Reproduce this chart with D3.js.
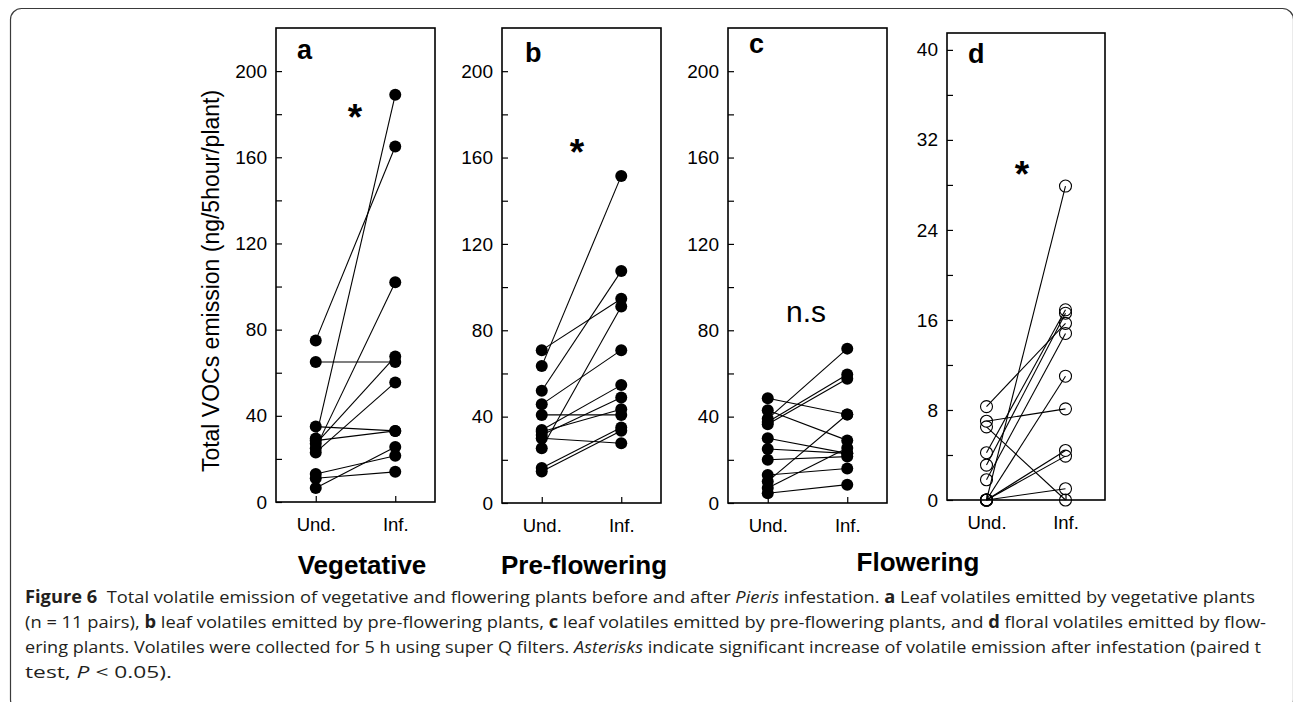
<!DOCTYPE html>
<html><head><meta charset="utf-8">
<script src="https://cdn.jsdelivr.net/npm/d3@7"></script>
<style>body{margin:0;background:#fff} svg{display:block}</style>
</head><body>
<script>
// ---------- data ----------
const treatments = ["Und.", "Inf."];
const panelLetters = ["a", "b", "c", "d"];
const stageTitles = ["Vegetative", "Pre-flowering", "Flowering"];
const majorTicksABC = [0, 40, 80, 120, 160, 200];
const minorTicksABC = [20, 60, 100, 140, 180];
const majorTicksD = [0, 8, 16, 24, 32, 40];
const minorTicksD = [4, 12, 20, 28, 36];
const yLabel = "Total VOCs emission (ng/5hour/plant)";

const undA = [75, 65, 35, 29.5, 28.5, 27, 25, 23, 13, 11, 6.5];
const infA = [165, 65, 33, 189, 33, 67.5, 102, 55.5, 21.5, 14, 25.5];

const undB = [70.8, 63.4, 52, 45.7, 40.8, 33.8, 33, 31.5, 30, 25.4, 16.2, 14.6];
const infB = [94.6, 151.5, 107.4, 70.8, 40.8, 54.6, 43.4, 48.9, 27.7, 91, 35, 33.5];

const undC = [48.5, 43, 39, 37.5, 36.5, 30, 25, 20, 13, 10, 7, 4.5];
const infC = [41, 29, 71.5, 59.5, 57.5, 23, 23, 21.5, 16, 41, 25.5, 8.5];

const undD = [8.3, 7.0, 6.5, 4.2, 3.1, 1.8, 0, 0, 0, 0, 0];
const infD = [15.7, 8.1, 0, 16.9, 16.6, 14.8, 27.9, 11, 4.4, 3.9, 1.0];

const significance = ["*", "*", "n.s", "*"];

// ---------- layout ----------
const W = 1293, H = 702;
const FONT = "'Liberation Sans', Arial, Helvetica, sans-serif";
const svg = d3.select("body").append("svg").attr("width", W).attr("height", H)
  .style("font-family", FONT);

// outer rounded border
svg.append("rect").attr("x", 10.5).attr("y", 8.5).attr("width", 1283).attr("height", 702)
  .attr("rx", 11).attr("fill", "none").attr("stroke", "#3a3a3a").attr("stroke-width", 1.2);

const panelDefs = [
  {und: undA, inf: infA, left: 276, right: 435, top: 28, bottom: 502, max: 220, major: majorTicksABC, minor: minorTicksABC, filled: true,
   letterPos: [297, 59], sigPos: [355, 130], sigSize: 37, sigBold: true},
  {und: undB, inf: infB, left: 502, right: 661, top: 28, bottom: 503, max: 220, major: majorTicksABC, minor: minorTicksABC, filled: true,
   letterPos: [525, 62], sigPos: [577, 165], sigSize: 37, sigBold: true},
  {und: undC, inf: infC, left: 728, right: 887, top: 28, bottom: 503, max: 220, major: majorTicksABC, minor: minorTicksABC, filled: true,
   letterPos: [749, 53], sigPos: [806, 322], sigSize: 30, sigBold: false},
  {und: undD, inf: infD, left: 947, right: 1105, top: 33, bottom: 500, max: 41.5, major: majorTicksD, minor: minorTicksD, filled: false,
   letterPos: [968, 63], sigPos: [1022, 187], sigSize: 37, sigBold: true}
];

panelDefs.forEach((p, i) => {
  const g = svg.append("g");
  const y = d3.scaleLinear().domain([0, p.max]).range([p.bottom, p.top]);
  const x = d3.scalePoint().domain(treatments).range([p.left, p.right]).padding(0.5);

  // minor ticks (inward)
  g.append("g").attr("transform", `translate(${p.left},0)`)
    .call(d3.axisLeft(y).tickValues(p.minor).tickSizeInner(-6).tickSizeOuter(0).tickFormat(""))
    .call(a => a.select(".domain").remove())
    .call(a => a.selectAll("line").attr("stroke", "#000").attr("stroke-width", 1.2));
  // major ticks + labels
  g.append("g").attr("transform", `translate(${p.left},0)`)
    .call(d3.axisLeft(y).tickValues(p.major).tickSizeInner(-6).tickSizeOuter(0).tickPadding(9))
    .call(a => a.select(".domain").remove())
    .call(a => a.selectAll("line").attr("stroke", "#000").attr("stroke-width", 1.2))
    .call(a => a.selectAll("text").attr("font-size", 19).attr("fill", "#000").attr("font-family", FONT));
  // bottom axis
  g.append("g").attr("transform", `translate(0,${p.bottom})`)
    .call(d3.axisBottom(x).tickSizeInner(-6).tickSizeOuter(0).tickPadding(16))
    .call(a => a.select(".domain").remove())
    .call(a => a.selectAll("line").attr("stroke", "#000").attr("stroke-width", 1.2))
    .call(a => a.selectAll("text").attr("font-size", 18.5).attr("fill", "#000").attr("font-family", FONT));

  // frame
  g.append("rect").attr("x", p.left).attr("y", p.top)
    .attr("width", p.right - p.left).attr("height", p.bottom - p.top)
    .attr("fill", "none").attr("stroke", "#000").attr("stroke-width", 1.6);

  // pair lines
  const pairs = p.und.map((u, k) => ({u, v: p.inf[k]}));
  g.selectAll("line.pair").data(pairs).join("line").attr("class", "pair")
    .attr("x1", x("Und.")).attr("x2", x("Inf."))
    .attr("y1", d => y(d.u)).attr("y2", d => y(d.v))
    .attr("stroke", "#000").attr("stroke-width", 1.1);

  // points
  const pts = [];
  p.und.forEach(v => pts.push({t: "Und.", v}));
  p.inf.forEach(v => pts.push({t: "Inf.", v}));
  g.selectAll("circle.pt").data(pts).join("circle").attr("class", "pt")
    .attr("cx", d => x(d.t)).attr("cy", d => y(d.v))
    .attr("r", 6)
    .attr("fill", p.filled ? "#000" : "none")
    .attr("stroke", "#000").attr("stroke-width", p.filled ? 0 : 1.1);

  // panel letter
  g.append("text").attr("x", p.letterPos[0]).attr("y", p.letterPos[1])
    .attr("font-size", 27).attr("font-weight", "bold").text(panelLetters[i]);
  // significance
  g.append("text").attr("x", p.sigPos[0]).attr("y", p.sigPos[1])
    .attr("text-anchor", "middle").attr("font-size", p.sigSize)
    .attr("font-weight", p.sigBold ? "bold" : "normal").text(significance[i]);
});

// y-axis title
svg.append("text").attr("transform", "translate(219,281) rotate(-90)")
  .attr("text-anchor", "middle").attr("font-size", 23).text(yLabel);

// stage titles
const titlePos = [[362, 574], [584, 574], [918, 571]];
stageTitles.forEach((t, i) => {
  svg.append("text").attr("x", titlePos[i][0]).attr("y", titlePos[i][1])
    .attr("text-anchor", "middle").attr("font-size", 26).attr("font-weight", "bold").text(t);
});

// caption
const capFont = "'Open Sans', 'Noto Sans', sans-serif";
const captionLines = [
  {y: 603, len: 1230, parts: [["Figure 6", "b"], ["  Total volatile emission of vegetative and flowering plants before and after ", ""], ["Pieris", "i"], [" infestation. ", ""], ["a", "b"], [" Leaf volatiles emitted by vegetative plants", ""]]},
  {y: 628, len: 1241, parts: [["(n = 11 pairs), ", ""], ["b", "b"], [" leaf volatiles emitted by pre-flowering plants, ", ""], ["c", "b"], [" leaf volatiles emitted by pre-flowering plants, and ", ""], ["d", "b"], [" floral volatiles emitted by flow-", ""]]},
  {y: 653, len: 1236, parts: [["ering plants. Volatiles were collected for 5 h using super Q filters. ", ""], ["Asterisks", "i"], [" indicate significant increase of volatile emission after infestation (paired t", ""]]},
  {y: 678, len: 147, parts: [["test, ", ""], ["P", "i"], [" < 0.05).", ""]]}
];
captionLines.forEach(l => {
  const t = svg.append("text").attr("x", 25).attr("y", l.y)
    .attr("font-family", capFont).attr("font-size", 17).attr("fill", "#231f20")
    .attr("textLength", l.len).attr("lengthAdjust", "spacingAndGlyphs")
    .style("white-space", "pre");
  l.parts.forEach(([s, st]) => {
    const sp = t.append("tspan").text(s);
    if (st === "b") sp.attr("font-weight", "bold");
    if (st === "i") sp.attr("font-style", "italic");
  });
});
</script>
</body></html>
